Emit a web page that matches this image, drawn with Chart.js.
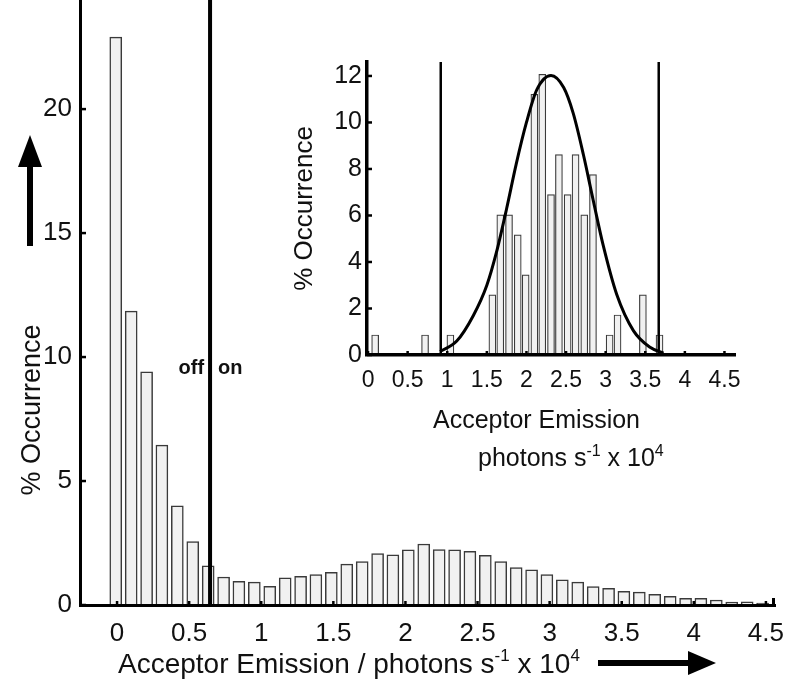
<!doctype html>
<html lang="en">
<head>
<meta charset="utf-8">
<title>Acceptor Emission Histogram</title>
<script src="https://cdn.jsdelivr.net/npm/chart.js"></script>
<style>
    body {
        margin: 0;
        background: #fff;
    }
    .wrap {
        position: relative;
        width: 800px;
        height: 690px;
    }
    #mainChart { position: absolute; left: 0; top: 0; }
    #insetChart { position: absolute; left: 280px; top: 40px; }
</style>
</head>
<body>
<div class="wrap">
    <canvas id="mainChart" width="800" height="690"></canvas>
    <canvas id="insetChart" width="480" height="450"></canvas>
</div>
<script>
    // main histogram (x in photons/s x 10^4, y in % occurrence)
    const mainBinCenters = [
        -0.009, 0.098, 0.205, 0.311, 0.418, 0.525, 0.632, 0.739, 0.845, 0.952,
        1.059, 1.166, 1.273, 1.379, 1.486, 1.593, 1.700, 1.807, 1.913, 2.020,
        2.127, 2.234, 2.341, 2.447, 2.554, 2.661, 2.768, 2.875, 2.981, 3.088,
        3.195, 3.302, 3.409, 3.515, 3.622, 3.729, 3.836, 3.943, 4.049, 4.156,
        4.263, 4.370, 4.477
    ];
    const mainOccurrence = [
        22.9, 11.85, 9.4, 6.45, 4.0, 2.56, 1.58, 1.13, 0.95, 0.92,
        0.75, 1.1, 1.16, 1.23, 1.32, 1.65, 1.75, 2.07, 2.02, 2.22,
        2.46, 2.24, 2.22, 2.16, 2.0, 1.75, 1.51, 1.42, 1.23, 1.02,
        0.92, 0.74, 0.67, 0.55, 0.52, 0.43, 0.35, 0.27, 0.27, 0.2,
        0.12, 0.13, 0.08
    ];
    const offOnThreshold = 0.645;
    const mainXTicks = [0, 0.5, 1, 1.5, 2, 2.5, 3, 3.5, 4, 4.5];
    const mainYTicks = [0, 5, 10, 15, 20];

    // inset histogram (single molecule)
    const insetBinCenters = [
        0.09, 0.72, 1.04, 1.57, 1.67, 1.78, 1.89, 1.99, 2.10, 2.20,
        2.31, 2.41, 2.52, 2.62, 2.73, 2.84, 3.05, 3.15, 3.47, 3.68
    ];
    const insetOccurrence = [
        0.86, 0.86, 0.86, 2.59, 6.03, 6.03, 5.17, 3.45, 11.21, 12.07,
        6.9, 8.62, 6.9, 8.62, 6.03, 7.76, 0.86, 1.72, 2.59, 0.86
    ];
    // fitted curve
    const fitX = [0.91, 1.12, 1.33, 1.50, 1.62, 1.75, 1.87, 2.00, 2.13, 2.31,
                  2.47, 2.59, 2.72, 2.84, 2.97, 3.14, 3.35, 3.56, 3.73];
    const fitY = [0.15, 0.6, 1.7, 3.0, 4.4, 6.3, 8.2, 10.0, 11.4, 12.02,
                  11.5, 10.4, 8.6, 6.7, 4.7, 2.6, 1.05, 0.33, 0.08];
    const insetThresholds = [0.918, 3.67];
    const insetXTicks = [0, 0.5, 1, 1.5, 2, 2.5, 3, 3.5, 4, 4.5];
    const insetYTicks = [0, 2, 4, 6, 8, 10, 12];

    const FONT = "'Liberation Sans', Arial, sans-serif";
    Chart.defaults.font.family = FONT;
    Chart.defaults.color = '#111';

    // text with superscript pieces, drawn left to right
    function drawSupText(ctx, parts, x, y, size) {
        let cx = x;
        parts.forEach(([txt, sup]) => {
            ctx.font = (sup ? Math.round(size * 0.62) : size) + 'px ' + FONT;
            ctx.fillText(txt, cx, sup ? y - size * 0.42 : y);
            cx += ctx.measureText(txt).width;
        });
    }

    // keep the plot box where we put it (no label padding)
    function fixBox(size, key) {
        return s => {
            s[key] = size;
            s.paddingTop = 0; s.paddingBottom = 0;
            s.paddingLeft = 0; s.paddingRight = 0;
        };
    }

    // tick marks pointing into the plot
    const inwardTicks = {
        id: 'inwardTicks',
        afterDatasetsDraw(chart, args, opts) {
            const ctx = chart.ctx;
            const {left, right, bottom} = chart.chartArea;
            ctx.save();
            ctx.strokeStyle = '#000';
            ctx.lineWidth = opts.width;
            chart.scales.x.ticks.forEach(t => {
                const px = chart.scales.x.getPixelForValue(t.value);
                ctx.beginPath();
                ctx.moveTo(px, bottom);
                ctx.lineTo(px, bottom - opts.x);
                ctx.stroke();
            });
            chart.scales.y.ticks.forEach(t => {
                const py = chart.scales.y.getPixelForValue(t.value);
                ctx.beginPath();
                ctx.moveTo(left, py);
                ctx.lineTo(left + opts.y, py);
                ctx.stroke();
            });
            if (opts.endMark) {
                ctx.lineWidth = 3;
                ctx.beginPath();
                ctx.moveTo(right - 1.5, bottom);
                ctx.lineTo(right - 1.5, bottom - opts.endMark);
                ctx.stroke();
            }
            ctx.restore();
        }
    };

    const mainDecor = {
        id: 'mainDecor',
        afterDraw(chart) {
            const ctx = chart.ctx;
            const tx = chart.scales.x.getPixelForValue(offOnThreshold);
            ctx.save();
            ctx.fillStyle = '#111';

            ctx.font = 'bold 20px ' + FONT;
            ctx.textBaseline = 'middle';
            ctx.textAlign = 'right';
            ctx.fillText('off', tx - 6, 368);
            ctx.textAlign = 'left';
            ctx.fillText('on', tx + 8, 368);

            // y title + arrow
            ctx.save();
            ctx.translate(33, 410);
            ctx.rotate(-Math.PI / 2);
            ctx.textAlign = 'center';
            ctx.textBaseline = 'middle';
            ctx.font = '27px ' + FONT;
            ctx.fillText('% Occurrence', 0, 0);
            ctx.restore();

            ctx.fillStyle = '#000';
            ctx.fillRect(27, 164, 6, 82);
            ctx.beginPath();
            ctx.moveTo(30, 135);
            ctx.lineTo(18, 167);
            ctx.lineTo(42, 167);
            ctx.closePath();
            ctx.fill();

            // x title + arrow
            ctx.fillStyle = '#111';
            ctx.textAlign = 'left';
            ctx.textBaseline = 'alphabetic';
            drawSupText(ctx, [['Acceptor Emission / photons s', false], ['-1', true],
                              [' x 10', false], ['4', true]], 118, 673, 28);

            ctx.fillStyle = '#000';
            ctx.fillRect(598, 660, 92, 6);
            ctx.beginPath();
            ctx.moveTo(716, 663);
            ctx.lineTo(688, 651);
            ctx.lineTo(688, 675);
            ctx.closePath();
            ctx.fill();
            ctx.restore();
        }
    };

    const insetDecor = {
        id: 'insetDecor',
        afterDraw(chart) {
            const ctx = chart.ctx;
            ctx.save();
            ctx.fillStyle = '#111';
            ctx.textAlign = 'left';
            ctx.textBaseline = 'alphabetic';
            ctx.font = '25px ' + FONT;
            ctx.fillText('Acceptor Emission', 153, 388);
            drawSupText(ctx, [['photons s', false], ['-1', true], [' x 10', false], ['4', true]], 198, 426, 25);
            ctx.restore();
        }
    };

    const mainChart = new Chart(document.getElementById('mainChart'), {
        type: 'bar',
        data: {
            datasets: [
                {
                    type: 'line',
                    data: [{x: offOnThreshold, y: 0}, {x: offOnThreshold, y: 24.4}],
                    borderColor: '#000',
                    borderWidth: 4,
                    pointRadius: 0,
                    order: 0
                },
                {
                    type: 'bar',
                    data: mainBinCenters.map((x, i) => ({x: x, y: mainOccurrence[i]})),
                    backgroundColor: '#f1f1f1',
                    borderColor: '#3a3a3a',
                    borderWidth: 1.5,
                    barThickness: 12,
                    order: 1
                }
            ]
        },
        options: {
            responsive: false,
            animation: false,
            layout: { autoPadding: false, padding: { top: 0, right: 25, left: 0, bottom: 0 } },
            plugins: {
                legend: { display: false },
                tooltip: { enabled: false },
                inwardTicks: { x: 4, y: 6, width: 2.5, endMark: 7 }
            },
            scales: {
                x: {
                    type: 'linear',
                    offset: false,
                    min: -0.257,
                    max: 4.563,
                    grid: { display: false, drawTicks: false },
                    border: { display: true, color: '#000', width: 3, z: 1 },
                    afterBuildTicks: s => { s.ticks = mainXTicks.map(v => ({value: v})); },
                    afterFit: fixBox(85, 'height'),
                    ticks: { padding: 13, font: { size: 26 }, autoSkip: false, maxRotation: 0, minRotation: 0,
                             callback: v => String(v) }
                },
                y: {
                    min: 0,
                    max: 24.4,
                    grid: { display: false, drawTicks: false },
                    border: { display: true, color: '#000', width: 3, z: 1 },
                    afterBuildTicks: s => { s.ticks = mainYTicks.map(v => ({value: v})); },
                    afterFit: fixBox(80, 'width'),
                    ticks: { padding: 8, font: { size: 26 }, callback: v => String(v) }
                }
            }
        },
        plugins: [inwardTicks, mainDecor]
    });

    const insetChart = new Chart(document.getElementById('insetChart'), {
        type: 'bar',
        data: {
            datasets: [
                {
                    type: 'line',
                    data: [{x: insetThresholds[0], y: 0}, {x: insetThresholds[0], y: 12.6}],
                    borderColor: '#000', borderWidth: 2.5, pointRadius: 0, order: 0
                },
                {
                    type: 'line',
                    data: [{x: insetThresholds[1], y: 0}, {x: insetThresholds[1], y: 12.6}],
                    borderColor: '#000', borderWidth: 2.5, pointRadius: 0, order: 0
                },
                {
                    type: 'line',
                    data: fitX.map((x, i) => ({x: x, y: fitY[i]})),
                    borderColor: '#000',
                    borderWidth: 3,
                    pointRadius: 0,
                    cubicInterpolationMode: 'monotone',
                    order: 1
                },
                {
                    type: 'bar',
                    data: insetBinCenters.map((x, i) => ({x: x, y: insetOccurrence[i]})),
                    backgroundColor: '#f1f1f1',
                    borderColor: '#3a3a3a',
                    borderWidth: 1.2,
                    barThickness: 7,
                    order: 2
                }
            ]
        },
        options: {
            responsive: false,
            animation: false,
            layout: { autoPadding: false, padding: { top: 22, right: 25, left: 0, bottom: 0 } },
            plugins: {
                legend: { display: false },
                tooltip: { enabled: false },
                inwardTicks: { x: 4, y: 5, width: 2.5 }
            },
            scales: {
                x: {
                    type: 'linear',
                    offset: false,
                    min: -0.013,
                    max: 4.633,
                    grid: { display: false, drawTicks: false },
                    border: { display: true, color: '#000', width: 3.5, z: 1 },
                    afterBuildTicks: s => { s.ticks = insetXTicks.map(v => ({value: v})); },
                    afterFit: fixBox(135, 'height'),
                    ticks: { padding: 12, font: { size: 23 }, autoSkip: false, maxRotation: 0, minRotation: 0,
                             callback: v => String(v) }
                },
                y: {
                    min: 0,
                    max: 12.6,
                    grid: { display: false, drawTicks: false },
                    border: { display: true, color: '#000', width: 3.5, z: 1 },
                    afterBuildTicks: s => { s.ticks = insetYTicks.map(v => ({value: v})); },
                    afterFit: fixBox(87, 'width'),
                    ticks: { padding: 5, font: { size: 25 }, callback: v => String(v) },
                    title: {
                        display: true,
                        text: '% Occurrence',
                        font: { size: 26 },
                        padding: { top: 9, bottom: 0 }
                    }
                }
            }
        },
        plugins: [inwardTicks, insetDecor]
    });
</script>
</body>
</html>
